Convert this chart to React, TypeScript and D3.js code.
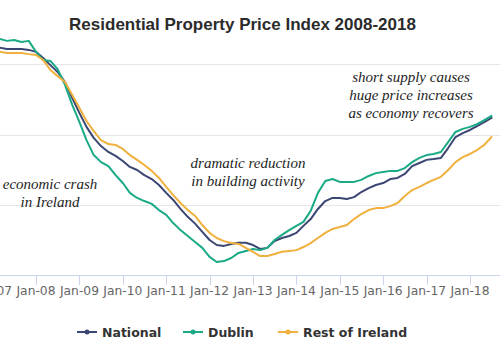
import React from "react";
import * as d3 from "d3";

const TITLE = "Residential Property Price Index 2008-2018";
const START = new Date(2007, 0, 1);
const STEP_MONTHS = 2;

const national = [131.0,130.8,130.3,130.3,130.3,130.0,129.3,127.1,124.6,122.2,118.6,112.9,107.6,102.7,98.8,95.9,93.8,92.4,90.6,88.5,87.4,85.6,84.2,82.1,79.3,76.8,73.6,70.8,68.4,65.5,62.6,60.8,60.5,61.2,61.6,61.6,60.8,59.4,59.8,62.2,63.3,64.0,65.1,67.6,70.0,73.6,76.4,77.5,77.5,77.1,77.8,79.6,81.0,82.1,82.8,84.2,84.6,86.0,88.8,89.9,91.0,91.3,91.7,95.2,99.1,100.5,101.6,103.0,104.4,105.9];
const dublin = [133.9,133.9,133.2,133.5,132.8,133.2,129.3,126.4,126.1,123.2,117.6,110.5,104.4,98.0,92.7,90.2,88.8,85.6,82.8,79.3,77.5,76.4,75.4,73.2,71.5,68.6,66.1,64.0,61.9,59.8,56.6,54.8,55.1,56.2,58.0,58.7,59.4,59.0,59.8,62.6,64.4,66.1,67.6,69.0,72.9,79.3,83.5,84.2,83.2,83.2,83.2,83.9,85.3,86.3,86.7,87.1,87.1,88.1,90.2,91.7,92.7,93.1,93.8,97.3,100.9,102.0,102.7,103.7,105.1,106.6];
const restOfIreland = [129.6,129.4,128.9,128.9,128.9,128.5,128.2,126.4,122.9,120.7,118.6,114.0,109.4,104.8,101.2,98.0,96.6,96.3,94.9,92.7,91.0,89.2,87.1,84.6,81.4,78.5,75.7,73.2,71.1,67.9,65.1,63.3,62.2,61.5,61.2,59.8,58.4,56.9,56.9,57.6,58.4,58.7,59.0,60.1,61.5,63.3,65.1,66.5,67.2,67.9,70.0,71.8,73.2,73.9,73.9,74.6,75.7,78.2,80.3,81.4,82.8,83.9,85.0,87.4,90.2,92.0,93.1,94.5,96.3,99.1];

const seriesNames = ["National", "Dublin", "Rest of Ireland"];
const seriesColors = ["#3c4673", "#1aaa86", "#f0b03e"];
const seriesData = [national, dublin, restOfIreland];

const tickYears = [2007, 2008, 2009, 2010, 2011, 2012, 2013, 2014, 2015, 2016, 2017, 2018];
const gridValues = [75, 100, 125];

const annotations = [
  { lines: ["economic crash", "in Ireland"], x: 50, y: 189 },
  { lines: ["dramatic reduction", "in building activity"], x: 248, y: 168 },
  { lines: ["short supply causes", "huge price increases", "as economy recovers"], x: 411, y: 82 },
];

export default function App() {
  const W = 500, H = 342;
  const x = d3.scaleTime().domain([new Date(2008, 0, 1), new Date(2018, 0, 1)]).range([36, 470]);
  const y = d3.scaleLinear().domain([50, 125]).range([275.5, 64]);
  const dates = national.map((_, i) => d3.timeMonth.offset(START, i * STEP_MONTHS));
  const line = d3.line<number>().x((_, i) => x(dates[i])).y((d) => y(d)).curve(d3.curveLinear);
  const fmt = d3.timeFormat("%b-%y");
  const legendX = [77, 183, 278];

  return (
    <svg width={W} height={H} style={{ position: "absolute", left: 0, top: 0, background: "#fff" }}
      fontFamily="'DejaVu Sans', 'Lucida Grande', sans-serif">
      <rect width={W} height={H} fill="#fff" />
      <text x={242.5} y={30} textAnchor="middle" fontFamily="'Liberation Sans', Arial, sans-serif"
        fontWeight="bold" fontSize={17} fill="#2b2b2b">{TITLE}</text>
      {gridValues.map((g) => (
        <line key={g} x1={0} x2={W} y1={Math.round(y(g)) + 0.5} y2={Math.round(y(g)) + 0.5} stroke="#e6e6e6" strokeWidth={1} />
      ))}
      <line x1={0} x2={W} y1={275.5} y2={275.5} stroke="#ccd6eb" strokeWidth={1} />
      {tickYears.map((yr) => {
        const d = new Date(yr, 0, 1);
        const tx = Math.round(x(d)) + 0.5;
        return (
          <g key={yr}>
            <line x1={tx} x2={tx} y1={275.5} y2={285} stroke="#ccd6eb" strokeWidth={1} />
            <text x={x(d)} y={295} textAnchor="middle" fontSize={12.3} fill="#666">{fmt(d)}</text>
          </g>
        );
      })}
      {seriesData.map((s, i) => (
        <path key={seriesNames[i]} d={line(s) || ""} fill="none" stroke={seriesColors[i]} strokeWidth={2}
          strokeLinejoin="round" strokeLinecap="round" />
      ))}
      {annotations.map((a, i) => (
        <text key={i} textAnchor="middle" fontFamily="'Liberation Serif', 'DejaVu Serif', serif"
          fontStyle="italic" fontSize={15} fill="#1e1e1e">
          {a.lines.map((l, j) => (
            <tspan key={j} x={a.x} y={a.y + j * 18}>{l}</tspan>
          ))}
        </text>
      ))}
      {seriesNames.map((n, i) => (
        <g key={n}>
          <line x1={legendX[i]} x2={legendX[i] + 20} y1={332} y2={332} stroke={seriesColors[i]} strokeWidth={2} />
          <circle cx={legendX[i] + 10} cy={332} r={2.5} fill={seriesColors[i]} />
          <text x={legendX[i] + 25} y={336.5} fontSize={12.5} fontWeight="bold" fill="#333">{n}</text>
        </g>
      ))}
    </svg>
  );
}
